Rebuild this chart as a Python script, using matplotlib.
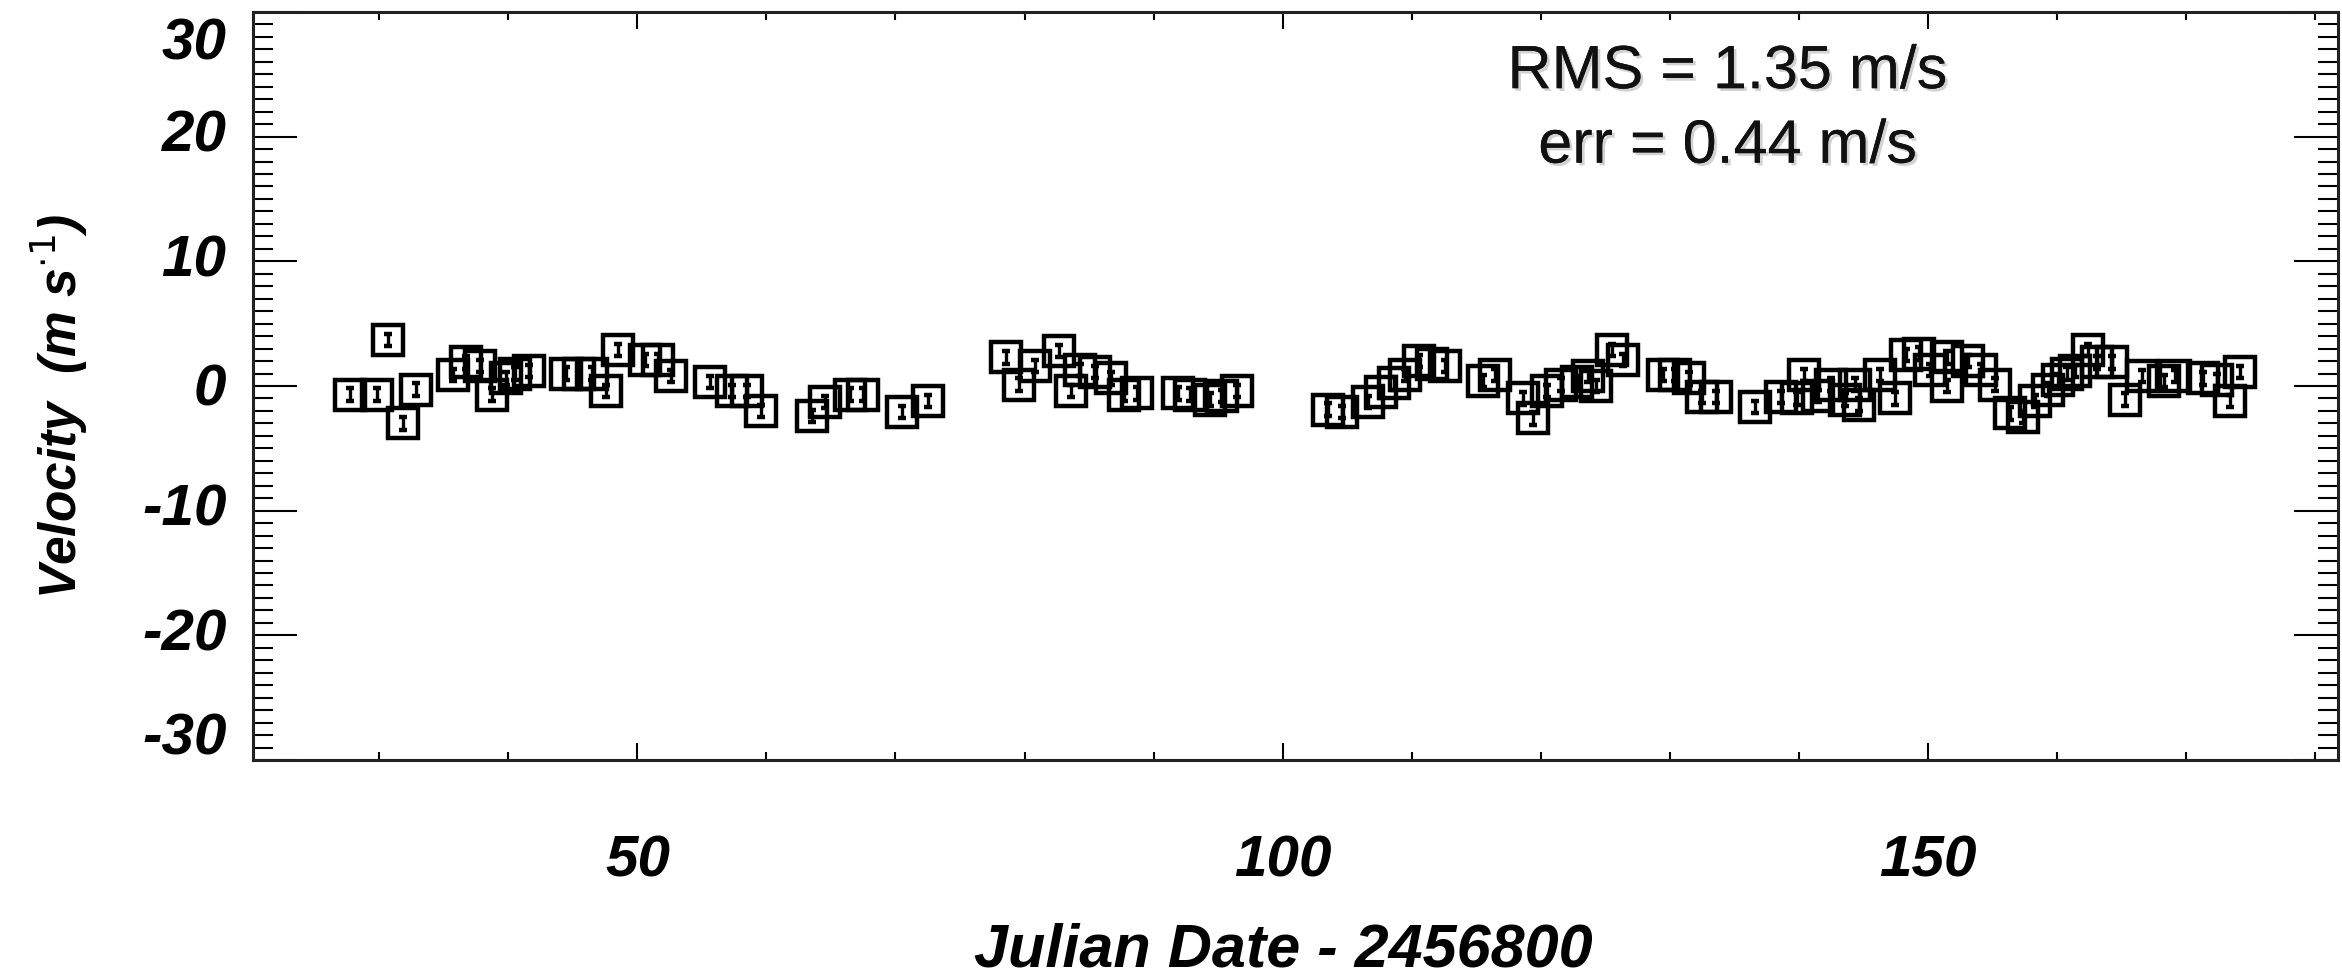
import numpy as np
import matplotlib
matplotlib.use("Agg")
import matplotlib.pyplot as plt
from matplotlib.ticker import MultipleLocator, FixedLocator
from matplotlib.transforms import ScaledTranslation
import matplotlib.patheffects as pe

plt.rcParams['font.family'] = ['Liberation Sans', 'DejaVu Sans']
plt.rcParams['axes.unicode_minus'] = False

# Julian date - 2456800 and radial velocity (m/s)
jd = [27.7, 29.8, 30.7, 31.8, 32.8, 35.7, 36.7, 37.8, 38.7, 39.8, 40.5, 41.6,
      44.5, 45.5, 46.5, 47.6, 48.5, 50.6, 51.6, 52.6,
      55.6, 57.3, 58.5, 59.6,
      63.5, 64.5, 66.5, 67.5, 70.5, 72.5,
      78.6, 79.6, 80.8, 82.7, 83.6, 84.3, 85.5, 86.7, 87.7, 88.7,
      91.9, 92.8, 94.4, 95.3, 96.5,
      103.5, 104.6, 106.6, 107.6, 108.6, 109.5, 110.6, 111.6, 112.6,
      115.5, 116.5, 118.6, 119.4, 120.5, 121.6, 122.8, 123.7, 124.3, 125.5, 126.4,
      129.5, 130.4, 131.5, 132.5, 133.6,
      136.6, 138.6, 139.9, 140.4, 141.5, 142.5, 143.6, 144.4, 144.7, 146.3,
      147.5, 148.3, 149.3, 150.2, 151.5, 151.5, 153.1, 154.1, 155.2, 156.4,
      157.4, 158.3, 159.3, 160.1, 160.8, 161.4, 162.4, 163.1, 164.3, 165.3,
      166.6, 168.3, 169.2, 171.3, 172.4, 173.4, 174.2]
vel = [-0.7, -0.7, 3.7, -3.0, -0.3, 0.9, 1.9, 1.6, -0.7, 0.6, 1.0, 1.2,
       1.0, 1.0, 1.0, -0.4, 2.9, 2.1, 2.1, 0.8,
       0.3, -0.4, -0.4, -2.0,
       -2.4, -1.3, -0.7, -0.7, -2.1, -1.2,
       2.3, 0.1, 1.6, 2.8, -0.4, 1.3, 1.1, 0.6, -0.7, -0.6,
       -0.6, -0.7, -1.1, -0.8, -0.4,
       -1.9, -2.1, -1.3, -0.5, 0.2, 0.9, 2.0, 1.8, 1.6,
       0.4, 0.9, -1.0, -2.6, -0.4, 0.1, 0.3, 0.8, 0.0, 2.9, 2.1,
       0.9, 0.9, 0.6, -0.9, -0.9,
       -1.7, -0.9, -1.0, 0.9, -0.8, 0.1, -1.1, 0.1, -1.5, 0.9,
       -1.0, 2.5, 2.6, 1.3, 2.3, 0.0, 2.0, 1.3, 0.1, -2.2,
       -2.5, -1.2, -0.3, 0.5, 1.0, 1.2, 2.9, 1.9, 1.9, -1.1,
       0.8, 0.4, 0.8, 0.6, 0.5, -1.2, 1.1]
err = 0.5

xticks_major = [50, 100, 150]
yticks_major = [-30, -20, -10, 0, 10, 20, 30]
stats_lines = ["RMS = 1.35 m/s", "err = 0.44 m/s"]

fig = plt.figure(figsize=(23.42, 9.8), dpi=100)
ax = fig.add_axes([0.1080, 0.2245, 0.8903, 0.7633])

ax.errorbar(jd, vel, yerr=err, fmt='s', mfc='none', mec='black', ms=21, mew=3.2,
            ecolor='black', elinewidth=2.4, capsize=3, capthick=2.4)

ax.set_xlim(20.2, 181.8)
ax.set_ylim(-30, 30)

tickfont = dict(family='Liberation Sans', weight='bold', style='italic', size=42)

ax.xaxis.set_major_locator(FixedLocator(xticks_major))
ax.xaxis.set_minor_locator(MultipleLocator(10))
ax.yaxis.set_major_locator(FixedLocator(yticks_major))
ax.yaxis.set_minor_locator(MultipleLocator(1))
ax.set_xticklabels([str(t) for t in xticks_major], fontdict=tickfont)
ax.set_yticklabels([str(t) for t in yticks_major], fontdict=tickfont)

ax.tick_params(axis='x', which='both', direction='in', top=True, bottom=True, pad=54, width=1.5)
ax.tick_params(axis='x', which='major', length=12)
ax.tick_params(axis='x', which='minor', length=6)
ax.tick_params(axis='y', which='both', direction='in', left=True, right=True, pad=19, width=1.5)
ax.tick_params(axis='y', which='major', length=32)
ax.tick_params(axis='y', which='minor', length=14.5)

# the end labels sit inside the frame, as in the original
shift = {30: -0.33, 0: -0.05, -30: 0.20}
for lab, val in zip(ax.get_yticklabels(), yticks_major):
    lab.set_verticalalignment('center')
    if val in shift:
        lab.set_transform(lab.get_transform() + ScaledTranslation(0, shift[val], fig.dpi_scale_trans))

for s in ax.spines.values():
    s.set_linewidth(2.2)
    s.set_color('#222222')

ax.set_xlabel("Julian Date - 2456800", fontdict=dict(tickfont, size=44))
ax.xaxis.set_label_coords(0.494, -0.255)
ax.xaxis.label.set_verticalalignment('center')

ax.set_ylabel(r"Velocity  (m s$^{\cdot 1}$)", fontdict=dict(tickfont, size=37))
ax.yaxis.set_label_coords(-0.093, 0.472)
ax.yaxis.label.set_verticalalignment('center')

shadow = [pe.withSimplePatchShadow(offset=(2, -2), shadow_rgbFace='gray', alpha=0.35), pe.Normal()]
for line, yb in zip(stats_lines, [0.910, 0.834]):
    fig.text(0.7377, yb, line, ha='center', va='baseline', fontsize=44,
             family='Liberation Sans', color='#111111', path_effects=shadow)

fig.savefig("out.png", dpi=100)
